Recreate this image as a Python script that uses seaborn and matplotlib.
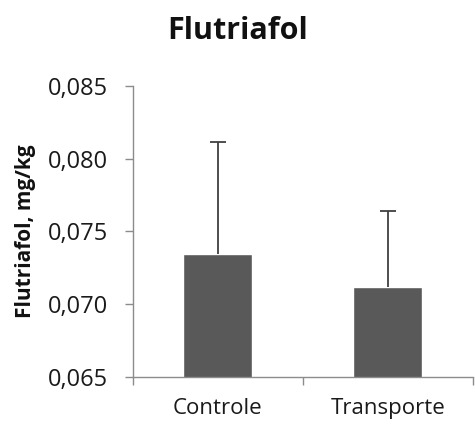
import matplotlib
matplotlib.use("Agg")
import matplotlib.pyplot as plt
import seaborn as sns
import pandas as pd
from matplotlib.ticker import FuncFormatter, FixedLocator

# Flutriafol residue per treatment (mean and standard deviation, mg/kg)
categories = ["Controle", "Transporte"]
means = [0.07345, 0.07117]
errors = [0.0077, 0.00523]
yticks = [0.065, 0.070, 0.075, 0.080, 0.085]

sns.set_theme(style="white")
plt.rcParams["font.family"] = ["Open Sans", "DejaVu Sans"]

df = pd.DataFrame({"tratamento": categories, "valor": means})

fig = plt.figure(figsize=(4.75, 4.24), dpi=100)
ax = fig.add_axes([0.2794, 0.1116, 0.7164, 0.6854])

sns.barplot(data=df, x="tratamento", y="valor", color="#595959",
            saturation=1, width=0.405, errorbar=None, ax=ax)
_, caps, _ = ax.errorbar(range(len(categories)), means,
                         yerr=[[0] * len(errors), errors], fmt="none",
                         ecolor="#404040", elinewidth=1.3, capsize=6, capthick=1.3)
# one-sided bars: keep only the upper cap
caps[0].set_visible(False)

ax.set_ylim(yticks[0], yticks[-1])
ax.set_xlim(-0.5, len(categories) - 0.5)
ax.set_yticks(yticks)
ax.yaxis.set_major_formatter(FuncFormatter(lambda v, p: f"{v:.3f}".replace(".", ",")))

fig.suptitle("Flutriafol", x=0.5, y=0.962, fontsize=22, fontweight="bold",
             color="#111111")
ax.set_xlabel("")
ax.set_ylabel("Flutriafol, mg/kg", fontsize=15, fontweight="bold",
              labelpad=8, color="#111111")

for side in ("top", "right"):
    ax.spines[side].set_visible(False)
for side in ("left", "bottom"):
    ax.spines[side].set_color("#8c8c8c")
    ax.spines[side].set_linewidth(1.0)

ax.tick_params(axis="y", which="major", left=True, length=6, width=1.0,
               color="#8c8c8c", labelsize=17, labelcolor="#1a1a1a", pad=12)
ax.tick_params(axis="x", which="major", bottom=False, labelsize=16,
               labelcolor="#1a1a1a", pad=9)
ax.xaxis.set_minor_locator(FixedLocator([-0.5, 0.5, 1.5]))
ax.tick_params(axis="x", which="minor", bottom=True, length=6, width=1.0,
               color="#8c8c8c")

fig.savefig("out.png", dpi=100)
